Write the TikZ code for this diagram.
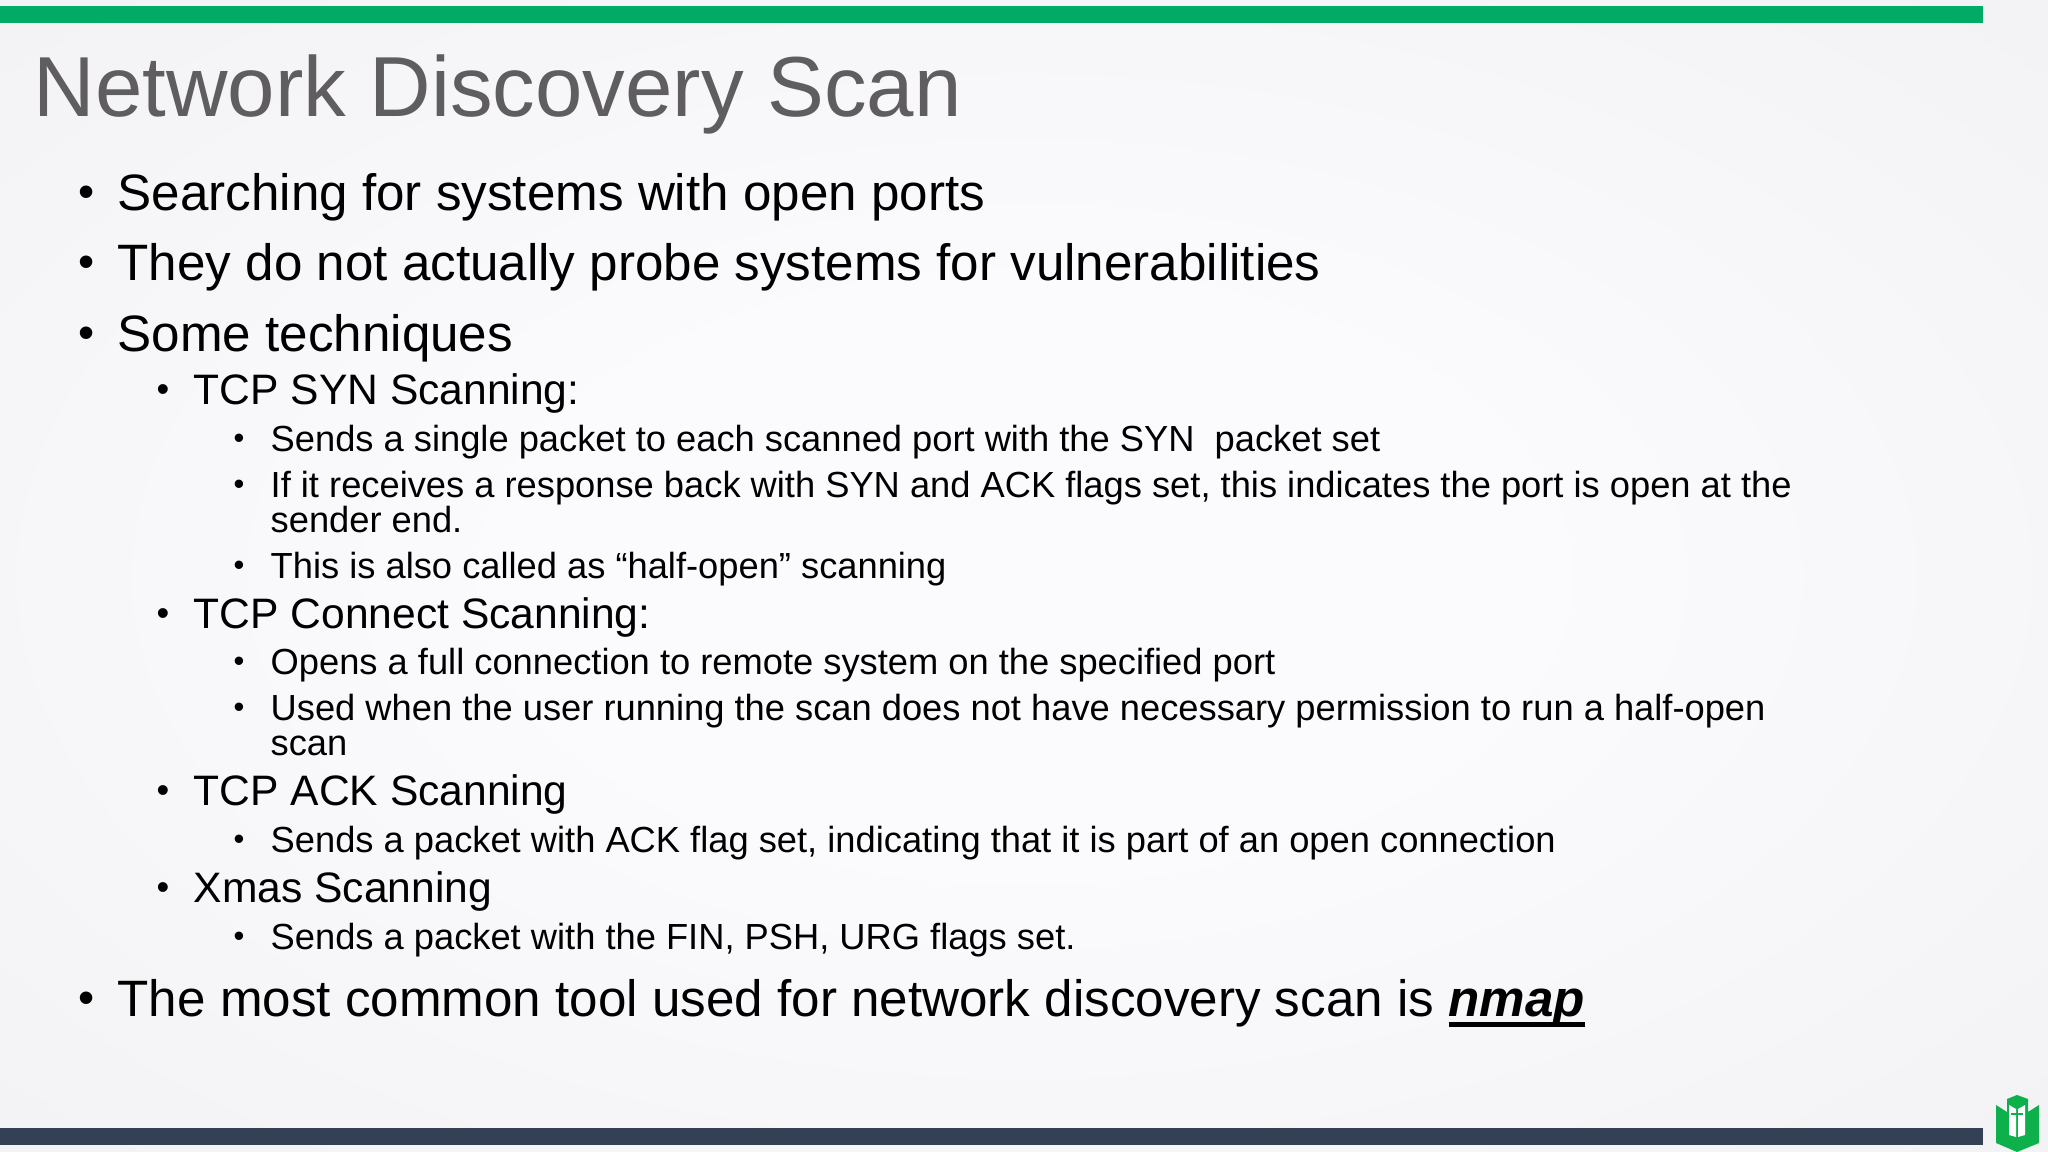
\documentclass[tikz,border=0pt]{standalone}
\usepackage{fontspec}
\setmainfont{Liberation Sans}
\usepackage{xcolor}
\definecolor{bargreen}{HTML}{00AB66}
\definecolor{bardark}{HTML}{344054}
\definecolor{logogreen}{HTML}{0DB04B}
\definecolor{titlegrey}{HTML}{5F5D60}
\definecolor{bgmid}{HTML}{FBFAFC}
\definecolor{bgedge}{HTML}{F1F0F2}
\pgfdeclareradialshading{slideglow}{\pgfpointorigin}{color(0bp)=(bgmid); color(12bp)=(bgmid); color(40bp)=(bgedge); color(50bp)=(bgedge)}
\newcommand{\thickuline}[1]{\setbox0=\hbox{#1}\rlap{\rule[-3.1pt]{\wd0}{1.4pt}}\box0}
\begin{document}
\begin{tikzpicture}
[x=0.01cm, y=-0.01cm,
% The text styles set each indent level of the slide
title/.style={anchor=base west, inner sep=0pt, text=titlegrey, font=\fontsize{24.23pt}{24.23pt}\selectfont},
lvlone/.style={anchor=base west, inner sep=0pt, font=\fontsize{14.55pt}{14.55pt}\selectfont},
lvltwo/.style={anchor=base west, inner sep=0pt, font=\fontsize{12.11pt}{12.11pt}\selectfont},
lvlthree/.style={anchor=base west, inner sep=0pt, font=\fontsize{10.32pt}{10.32pt}\selectfont}
]
\useasboundingbox (0,0) rectangle (2048,1152);
% Draw background and bars
\shade[shading=slideglow] (0,0) rectangle (2048,1152);
\fill[bargreen] (0,6) rectangle (1983,23);
\fill[bardark] (0,1128) rectangle (1983,1145);
% Draw logo
\fill[logogreen] (1996,1105)--(2007,1112)--(2007,1099)--(2017,1095)--(2028,1099)--(2028,1112)--(2039,1105)--(2039,1143)--(2017,1152)--(1996,1143)--cycle;
\fill[white] (2009,1105)--(2016,1109)--(2016,1137)--(2009,1135)--cycle;
\fill[white] (2018,1109)--(2025,1105)--(2025,1135)--(2018,1137)--cycle;
\fill[logogreen] (2011,1113) rectangle (2023,1115);
% Draw title and lines
\node[title] (title) at (33,117) {Network Discovery Scan};
\node[lvlone] (search) at (117,211) {Searching for systems with open ports};
\node[lvlone] (probe) at (117,281) {They do not actually probe systems for vulnerabilities};
\node[lvlone] (some) at (117,352) {Some techniques};
\node[lvltwo] (syn) at (193,405) {TCP SYN Scanning:};
\node[lvlthree] (synone) at (270,452) {Sends a single packet to each scanned port with the SYN\ \ packet set};
\node[lvlthree] (syntwo) at (270,498) {If it receives a response back with SYN and ACK flags set, this indicates the port is open at the};
\node[lvlthree] (syntwob) at (270,533) {sender end.};
\node[lvlthree] (synthree) at (270,578) {This is also called as “half-open” scanning};
\node[lvltwo] (connect) at (193,628) {TCP Connect Scanning:};
\node[lvlthree] (conone) at (270,675) {Opens a full connection to remote system on the specified port};
\node[lvlthree] (contwo) at (270,720) {Used when the user running the scan does not have necessary permission to run a half-open};
\node[lvlthree] (contwob) at (270,755) {scan};
\node[lvltwo] (ack) at (193,805) {TCP ACK Scanning};
\node[lvlthree] (ackone) at (270,852) {Sends a packet with ACK flag set, indicating that it is part of an open connection};
\node[lvltwo] (xmas) at (193,902) {Xmas Scanning};
\node[lvlthree] (xmasone) at (270,949) {Sends a packet with the FIN, PSH, URG flags set.};
\node[lvlone] (tool) at (117,1016) {The most common tool used for network discovery scan is \thickuline{\textbf{\textit{nmap}}}};
% Draw bullets
\foreach \y [count=\i] in {211,281,352,1016} \node[lvlone, anchor=base, scale=0.9] (bone\i) at (87,\y-3) {•};
\foreach \y [count=\i] in {405,628,805,902} \node[lvltwo, anchor=base, scale=0.85] (btwo\i) at (163,\y-3) {•};
\foreach \y [count=\i] in {452,498,578,675,720,852,949} \node[lvlthree, anchor=base, scale=0.85] (bthree\i) at (239,\y-3) {•};
\end{tikzpicture}
\end{document}
